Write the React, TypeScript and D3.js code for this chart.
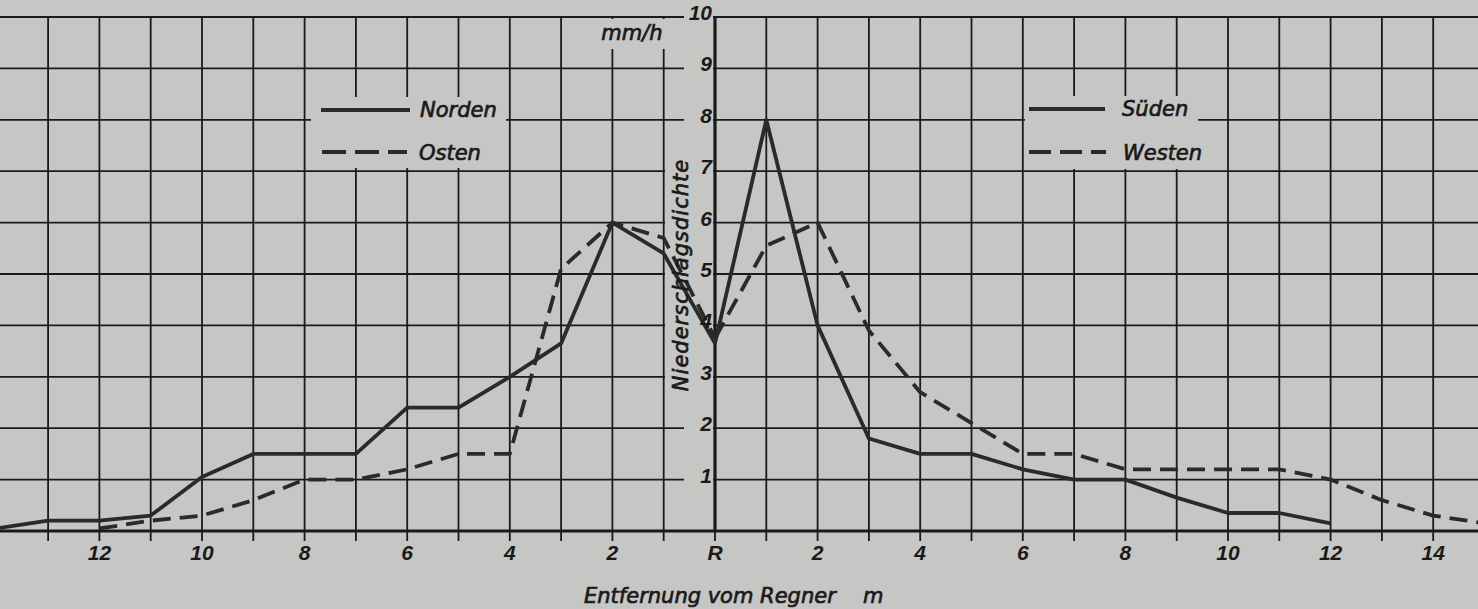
import * as d3 from "d3";

const W = 1478;
const H = 609;

// Entfernung vom Regner in m (links: Norden / Osten, rechts: Süden / Westen)
const nordenDist = [14, 13, 12, 11, 10, 9, 8, 7, 6, 5, 4, 3, 2, 1, 0];
const nordenValues = [0.05, 0.2, 0.2, 0.3, 1.05, 1.5, 1.5, 1.5, 2.4, 2.4, 3.0, 3.65, 6.0, 5.4, 3.65];

const ostenDist = [12, 11, 10, 9, 8, 7, 6, 5, 4, 3, 2, 1, 0];
const ostenValues = [0.05, 0.2, 0.3, 0.6, 1.0, 1.0, 1.2, 1.5, 1.5, 5.1, 6.0, 5.7, 3.75];

const suedenDist = [0, 1, 2, 3, 4, 5, 6, 7, 8, 9, 10, 11, 12];
const suedenValues = [3.65, 8.0, 4.0, 1.8, 1.5, 1.5, 1.2, 1.0, 1.0, 0.65, 0.35, 0.35, 0.15];

const westenDist = [0, 1, 2, 3, 4, 5, 6, 7, 8, 9, 10, 11, 12, 13, 14, 15];
const westenValues = [3.75, 5.55, 6.0, 3.9, 2.7, 2.1, 1.5, 1.5, 1.2, 1.2, 1.2, 1.2, 1.0, 0.6, 0.3, 0.15];

const xTicksLeft = [12, 10, 8, 6, 4, 2];
const xTicksRight = [2, 4, 6, 8, 10, 12, 14];
const yTicks = [1, 2, 3, 4, 5, 6, 7, 8, 9, 10];

const PAPER = "#c6c6c4";
const INK = "#1a1a1a";
const LINE = "#2a2a2a";
const TEXT_FONT = "'DejaVu Sans', sans-serif";
const NUM_FONT = "'Liberation Sans', Arial, sans-serif";
const DASH = "18 9";

// signed position: left side negative
const x = d3.scaleLinear().domain([-14, 15]).range([715 - 14 * 51.3, 715 + 15 * 51.3]);
const y = d3.scaleLinear().domain([0, 10]).range([531, 17]);

const line = d3
  .line<[number, number]>()
  .x((d) => x(d[0]))
  .y((d) => y(d[1]));

const side = (dist: number[], vals: number[], sign: number) =>
  dist.map((d, i) => [sign * d, vals[i]] as [number, number]);

const App = () => {
  const vLines = d3.range(-14, 16);
  const hLines = d3.range(0, 11);

  return (
    <div style={{ position: "absolute", left: 0, top: 0 }}>
      <svg width={W} height={H} style={{ display: "block" }}>
        <rect width={W} height={H} fill={PAPER} />

        {/* grid */}
        {vLines.map((v) => (
          <line key={"v" + v} x1={x(v)} x2={x(v)} y1={y(10)} y2={y(0) + 10}
            stroke={INK} strokeWidth={1.8} />
        ))}
        {hLines.map((h) => (
          <line key={"h" + h} x1={0} x2={W} y1={y(h)} y2={y(h)}
            stroke={INK} strokeWidth={h === 0 ? 2.8 : 1.8} />
        ))}

        {/* whitened patches behind labels */}
        <rect x={684} y={4} width={29} height={y(0) - 8} fill={PAPER} />
        <rect x={665} y={155} width={33} height={245} fill={PAPER} />
        <rect x={594} y={y(10) + 2} width={84} height={30} fill={PAPER} />
        <rect x={311} y={97} width={195} height={71} fill={PAPER} />
        <rect x={1025} y={96} width={173} height={73} fill={PAPER} />

        {/* y axis */}
        <line x1={x(0)} x2={x(0)} y1={y(10)} y2={y(0)} stroke={INK} strokeWidth={3.2} />

        {/* data */}
        <g fill="none" stroke={LINE} strokeWidth={3.8} strokeLinejoin="round">
          <path d={line(side(nordenDist, nordenValues, -1)) ?? ""} />
          <path d={line(side(ostenDist, ostenValues, -1)) ?? ""} strokeDasharray={DASH} />
          <path d={line(side(suedenDist, suedenValues, 1)) ?? ""} />
          <path d={line(side(westenDist, westenValues, 1)) ?? ""} strokeDasharray={DASH} />
        </g>

        {/* y ticks */}
        <g fontFamily={NUM_FONT} fontStyle="italic" fontWeight="bold" fontSize={21}
          fill={INK} textAnchor="end">
          {yTicks.map((t) => (
            <text key={t} x={712} y={y(t) + 3}>{t}</text>
          ))}
        </g>

        {/* x ticks */}
        <g fontFamily={NUM_FONT} fontStyle="italic" fontWeight="bold" fontSize={21}
          fill={INK} textAnchor="middle">
          {xTicksLeft.map((t) => (
            <text key={"l" + t} x={x(-t)} y={560}>{t}</text>
          ))}
          <text x={x(0)} y={560}>R</text>
          {xTicksRight.map((t) => (
            <text key={"r" + t} x={x(t)} y={560}>{t}</text>
          ))}
        </g>

        <g fontFamily={TEXT_FONT} fontStyle="italic" fontSize={21} fill={INK}
          stroke={INK} strokeWidth={0.7}>
          <text x={632} y={40} textAnchor="middle">mm/h</text>
          <text x={584} y={603}>Entfernung vom Regner</text>
          <text x={863} y={603}>m</text>
          <text transform="translate(688,275) rotate(-90)" textAnchor="middle" letterSpacing={1}>
            Niederschlagsdichte
          </text>

          {/* legends */}
          <text x={420} y={117}>Norden</text>
          <text x={419} y={160}>Osten</text>
          <text x={1122} y={116}>Süden</text>
          <text x={1123} y={160}>Westen</text>
        </g>
        <g stroke={LINE} strokeWidth={4}>
          <line x1={321} x2={410} y1={110} y2={110} />
          <line x1={322} x2={407} y1={152} y2={152} strokeDasharray="24 9" />
          <line x1={1029} x2={1105} y1={109} y2={109} />
          <line x1={1029} x2={1106} y1={152} y2={152} strokeDasharray="22 9" />
        </g>
      </svg>
    </div>
  );
};

export default App;
